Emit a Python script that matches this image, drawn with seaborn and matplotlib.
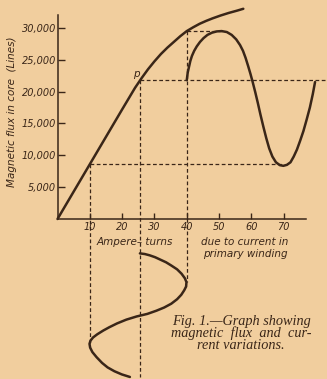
import matplotlib
matplotlib.use("Agg")
import matplotlib.pyplot as plt
import seaborn as sns

# magnetisation curve: flux (lines) against ampere-turns
AT_CURVE = [0, 10, 20, 22, 24, 26, 28, 30, 32, 34, 36, 38, 40, 42, 44, 46, 48, 50.5, 53, 55.5, 57.5]
FLUX_CURVE = [0, 8600, 17200, 18900, 20600, 22100, 23500, 24750, 25900, 26900, 27800, 28700,
              29500, 30100, 30650, 31100, 31500, 31950, 32350, 32700, 33000]

# flux waveform drawn to the right (time runs along x)
WAVE_X = [40.0, 40.3, 40.7, 41.1, 41.6, 42.3, 43.1, 44.1, 45.2, 46.4, 47.8, 49.3, 50.8, 52.4,
          53.9, 55.3, 56.5, 57.4, 58.2, 59.0, 59.7, 60.4, 61.2, 62.0, 62.8, 63.7, 64.6, 65.5,
          66.5, 67.6, 68.8, 69.9, 71.0, 72.1, 73.1, 74.1, 75.1, 76.1, 77.1, 78.1, 79.0, 79.7]
WAVE_FLUX = [21800, 23000, 23900, 24800, 25600, 26400, 27100, 27800, 28400, 28900, 29250, 29450,
             29500, 29350, 28900, 28200, 27300, 26400, 25300, 24000, 22800, 21500, 19900, 18200,
             16400, 14500, 12700, 11100, 9800, 8900, 8450, 8350, 8500, 8900, 9800, 10900, 12300,
             13800, 15600, 17500, 19600, 21500]

# current waveform drawn below (time runs downwards)
CURRENT_AT = [25.5, 27.0, 28.5, 30.2, 31.9, 33.6, 35.2, 37.0, 38.4, 39.4, 39.9, 39.8, 39.2, 38.3,
              37.0, 35.2, 33.0, 30.6, 27.8, 24.5, 21.3, 18.4, 16.0, 14.2, 12.3, 11.0, 10.2, 9.9,
              10.1, 10.8, 12.1, 13.8, 15.5, 17.6, 19.9, 22.4]
CURRENT_T = [-5400, -5500, -5700, -6000, -6400, -6800, -7300, -7900, -8600, -9300, -9900, -10600,
             -11200, -11900, -12600, -13300, -13900, -14400, -14900, -15300, -15800, -16400,
             -17000, -17500, -18100, -18600, -19100, -19600, -20200, -20900, -21700, -22600,
             -23300, -23900, -24400, -24800]

# working point p and the swing limits
P_AT, P_FLUX = 25.5, 21800
LOW_AT, LOW_FLUX = 10, 8600
HIGH_AT, HIGH_FLUX = 40, 29500

X_TICKS = [10, 20, 30, 40, 50, 60, 70]
Y_TICKS = [5000, 10000, 15000, 20000, 25000, 30000]
Y_TICK_LABELS = ["5,000", "10,000", "15,000", "20,000", "25,000", "30,000"]

PAPER = "#F1CE9E"
INK = "#3A2618"

sns.set_theme(style="ticks")
plt.rcParams["font.family"] = ["DejaVu Sans"]

fig = plt.figure(figsize=(3.27, 3.79), dpi=100, facecolor=PAPER)
ax = fig.add_axes([0, 0, 1, 1], facecolor=PAPER)
ax.set_xlim(-17.8, 83.4)
ax.set_ylim(-25120, 34380)

# curves
curve = dict(sort=False, estimator=None, color=INK, lw=1.8, solid_joinstyle="round",
             solid_capstyle="round", ax=ax)
sns.lineplot(x=AT_CURVE, y=FLUX_CURVE, **curve)
sns.lineplot(x=WAVE_X, y=WAVE_FLUX, **curve)
sns.lineplot(x=CURRENT_AT, y=CURRENT_T, **curve)

# dashed projection lines
dash = dict(color=INK, lw=0.9, linestyle=(0, (3, 2)))
trough = CURRENT_AT.index(min(CURRENT_AT))
peak = CURRENT_AT.index(max(CURRENT_AT))
ax.plot([LOW_AT, LOW_AT], [LOW_FLUX, CURRENT_T[trough]], **dash)
ax.plot([P_AT, P_AT], [P_FLUX, CURRENT_T[-1]], **dash)
ax.plot([HIGH_AT, HIGH_AT], [HIGH_FLUX, CURRENT_T[peak]], **dash)
ax.plot([LOW_AT, WAVE_X[WAVE_FLUX.index(min(WAVE_FLUX))]], [LOW_FLUX, LOW_FLUX], **dash)
ax.plot([P_AT, 83.4], [P_FLUX, P_FLUX], **dash)
ax.plot([HIGH_AT, WAVE_X[WAVE_FLUX.index(max(WAVE_FLUX))]], [HIGH_FLUX, HIGH_FLUX], **dash)

# axes
for s in ["top", "right"]:
    ax.spines[s].set_visible(False)
ax.spines["left"].set_position(("data", 0))
ax.spines["bottom"].set_position(("data", 0))
ax.spines["left"].set_bounds(0, 32000)
ax.spines["bottom"].set_bounds(0, 77)
for s in ["left", "bottom"]:
    ax.spines[s].set_color(INK)
    ax.spines[s].set_linewidth(1.1)

ax.set_xticks(X_TICKS)
ax.set_xticklabels([str(v) for v in X_TICKS], fontstyle="italic", fontsize=7, color=INK)
ax.set_yticks(Y_TICKS)
ax.set_yticklabels(Y_TICK_LABELS, fontstyle="italic", fontsize=7, color=INK)
ax.tick_params(axis="x", direction="in", length=4, width=1, color=INK, pad=2)
ax.tick_params(axis="y", direction="in", length=5, width=1, color=INK, pad=1)

txt = dict(color=INK, fontstyle="italic", fontsize=7.5)
ax.text(-14.1, 16800, "Magnetic flux in core  (Lines)", rotation=90, ha="center", va="center", **txt)
ax.text(12.2, -3600, "Ampere– turns", ha="left", va="center", **txt)
ax.text(71.3, -3600, "due to current in", ha="right", va="center", **txt)
ax.text(71.3, -5500, "primary winding", ha="right", va="center", **txt)
ax.text(24.3, 22700, "p", ha="center", va="center", **txt)

ax.text(56.8, -18000, "Fig. 1.—Graph showing\nmagnetic  flux  and  cur-\nrent variations.",
        ha="center", va="center", multialignment="center", linespacing=0.85,
        family=["Liberation Serif", "DejaVu Serif"], fontstyle="italic", fontsize=10.3, color=INK)

fig.savefig("out.png", dpi=100, facecolor=PAPER)
